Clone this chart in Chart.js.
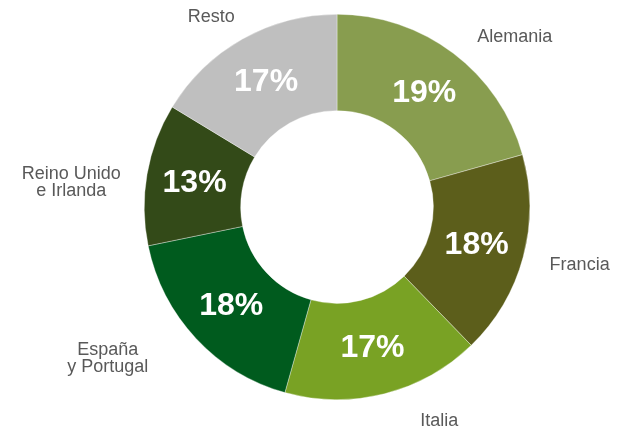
<!DOCTYPE html>
<html>
<head>
<meta charset="utf-8">
<script src="https://cdn.jsdelivr.net/npm/chart.js@4/dist/chart.umd.min.js"></script>
<style>
  html, body { margin: 0; padding: 0; background: #fff; }
  #wrap { width: 617px; height: 433px; }
</style>
</head>
<body>
<div id="wrap"><canvas id="myChart" width="617" height="433"></canvas></div>
<script>
// regiones (en orden horario desde arriba)
const regions = ['Alemania', 'Francia', 'Italia', 'España\ny Portugal', 'Reino Unido\ne Irlanda', 'Resto'];
// cuota estimada a partir del ángulo de cada sector
const shares = [20.6, 17.1, 16.6, 17.4, 11.9, 16.3];
// porcentajes impresos sobre el gráfico
const pctLabels = ['19%', '18%', '17%', '18%', '13%', '17%'];
const colors = ['#889d4f', '#5c5e1b', '#79a224', '#005b1e', '#334a18', '#bfbfbf'];

// posición de las etiquetas externas: [ángulo desde arriba (grados), distancia / radio exterior]
const outerLabelPos = [[46.2, 1.277], [103.4, 1.294], [154.5, 1.232], [236.5, 1.426], [275.2, 1.384], [326.5, 1.183]];

const labelsPlugin = {
  id: 'labels',
  afterDatasetsDraw(chart) {
    const c = chart.ctx;
    const arcs = chart.getDatasetMeta(0).data;
    c.save();
    arcs.forEach((arc, i) => {
      const p = arc.getProps(['x', 'y', 'startAngle', 'endAngle', 'innerRadius', 'outerRadius'], true);
      // porcentaje en el centro del sector
      const mid = (p.startAngle + p.endAngle) / 2;
      const r = (p.innerRadius + p.outerRadius) / 2;
      c.fillStyle = '#ffffff';
      c.font = 'bold 32px "Liberation Sans", Arial, sans-serif';
      c.textAlign = 'center';
      c.textBaseline = 'middle';
      c.fillText(pctLabels[i], p.x + r * Math.cos(mid), p.y + r * Math.sin(mid) + 1);

      // nombre de la región fuera del anillo
      const [deg, k] = outerLabelPos[i];
      const a = (deg - 90) * Math.PI / 180;
      const lx = p.x + k * p.outerRadius * Math.cos(a);
      const ly = p.y + k * p.outerRadius * Math.sin(a);
      const lines = regions[i].split('\n');
      const lh = 17;
      c.fillStyle = '#595959';
      c.font = '18px "Liberation Sans", Arial, sans-serif';
      lines.forEach((ln, j) => {
        c.fillText(ln, lx, ly + (j - (lines.length - 1) / 2) * lh);
      });
    });
    c.restore();
  }
};

const ctx = document.getElementById('myChart').getContext('2d');
const myChart = new Chart(ctx, {
  type: 'doughnut',
  data: {
    labels: regions,
    datasets: [{
      data: shares,
      backgroundColor: colors,
      borderColor: 'rgba(255,255,255,0.7)',
      borderWidth: 0.5,
      hoverOffset: 0
    }]
  },
  options: {
    responsive: false,
    animation: false,
    cutout: '50%',
    layout: { padding: { top: 14, bottom: 33, left: 100, right: 43 } },
    plugins: {
      legend: { display: false },
      tooltip: { enabled: false }
    }
  },
  plugins: [labelsPlugin]
});
</script>
</body>
</html>
